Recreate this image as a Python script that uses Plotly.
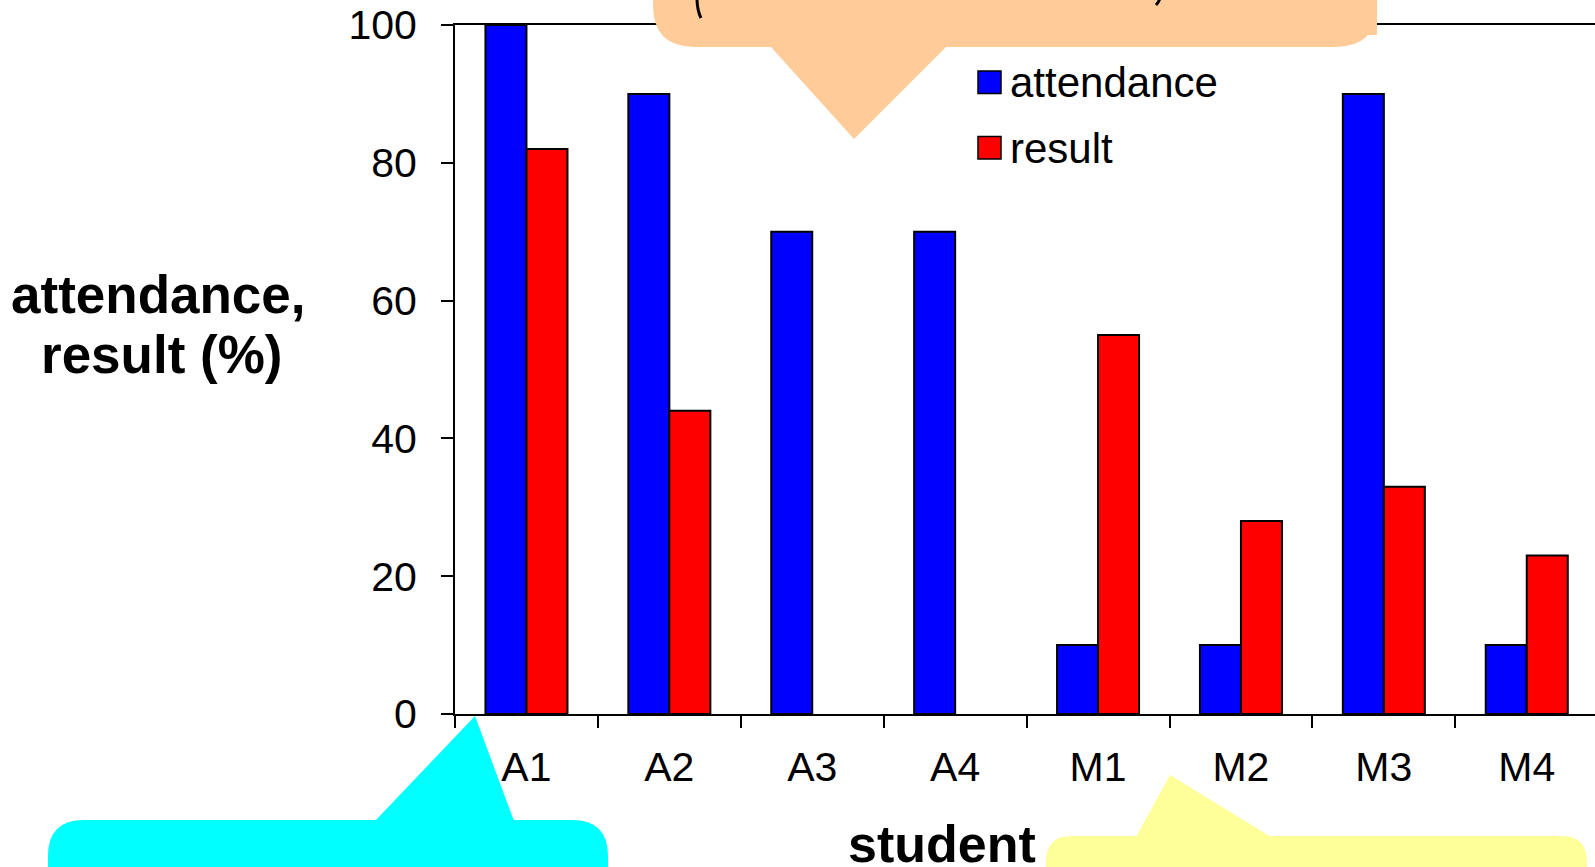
import plotly.graph_objects as go

# ---- data ----
students = ["A1", "A2", "A3", "A4", "M1", "M2", "M3", "M4"]
attendance = [100, 90, 70, 70, 10, 10, 90, 10]
result = [82, 44, 0, 0, 55, 28, 33, 23]
series_names = ["attendance", "result"]
series_colors = ["#0000FF", "#FF0000"]
y_ticks = [0, 20, 40, 60, 80, 100]

# ---- canvas geometry (pixels) ----
W, H = 1595, 867
L, R, T, B = 455, 0, 25, 153
PW, PH = W - L - R, H - T - B
CAT_W = 142.9  # width of one category in pixels


def px(x):
    return (x - L) / PW


def py(y):
    return (H - B - y) / PH


def pt(x, y):
    return f"{px(x):.5f},{py(y):.5f}"


FONT = "Liberation Sans, Arial, sans-serif"

fig = go.Figure()
for name, vals, col in zip(series_names, [attendance, result], series_colors):
    # empty bars get no outline so nothing is drawn for a zero value
    outline = [2 if v > 0 else 0 for v in vals]
    fig.add_trace(go.Bar(
        x=students, y=vals, name=name,
        marker=dict(color=col, line=dict(color="black", width=outline)),
        showlegend=False,
    ))

shapes = []


def callout(x0, x1, ytop, ybot, r, tail, color, rounded="top"):
    """Rounded box with a triangular pointer; tail = (base_left, tip, base_right)."""
    if rounded == "top":
        d = (f"M{pt(x0, ybot)} L{pt(x0, ytop + r)} Q{pt(x0, ytop)} {pt(x0 + r, ytop)} "
             f"L{pt(x1 - r, ytop)} Q{pt(x1, ytop)} {pt(x1, ytop + r)} L{pt(x1, ybot)} Z")
    else:
        d = (f"M{pt(x0, ytop)} L{pt(x0, ybot - r)} Q{pt(x0, ybot)} {pt(x0 + r, ybot)} "
             f"L{pt(x1 - r, ybot)} Q{pt(x1, ybot)} {pt(x1, ybot - r)} L{pt(x1, ytop)} Z")
    shapes.append(dict(type="path", path=d, xref="paper", yref="paper",
                       fillcolor=color, line=dict(width=0), layer="above"))
    (ax, ay), (bx, by), (cx, cy) = tail
    d2 = f"M{pt(ax, ay)} L{pt(bx, by)} L{pt(cx, cy)} Z"
    shapes.append(dict(type="path", path=d2, xref="paper", yref="paper",
                       fillcolor=color, line=dict(width=0), layer="above"))


# orange callout at the top
callout(653, 1377, -80, 47, 42, ((770, 46), (854, 139), (947, 46)), "#FFCC99", rounded="bottom")
shapes.append(dict(type="rect", xref="paper", yref="paper",
                   x0=px(1330), x1=px(1377), y0=py(35), y1=py(-80),
                   fillcolor="#FFCC99", line=dict(width=0), layer="above"))
# pen strokes of the handwritten note inside the orange callout
shapes.append(dict(type="path", xref="paper", yref="paper",
                   path=f"M{pt(697, -2)} Q{pt(697, 10)} {pt(701, 18)}",
                   line=dict(color="black", width=3), layer="above"))
shapes.append(dict(type="path", xref="paper", yref="paper",
                   path=f"M{pt(1160, -2)} Q{pt(1159, 2)} {pt(1156, 5)}",
                   line=dict(color="black", width=3), layer="above"))

# cyan callout bottom-left
callout(48, 608, 820, 920, 36, ((375, 821), (475, 716), (514, 821)), "#00FFFF")
# yellow callout bottom-right
callout(1046, 1587, 836, 920, 26, ((1136, 837), (1170, 775), (1271, 837)), "#FFFF99")

# legend swatches
sw = [(71, 93.5), (136.5, 159)]
for (y0, y1), col in zip(sw, series_colors):
    shapes.append(dict(type="rect", xref="paper", yref="paper",
                       x0=px(978), x1=px(1001), y0=py(y1), y1=py(y0),
                       fillcolor=col, line=dict(color="black", width=1.5), layer="above"))

annotations = []
for name, yc in zip(series_names, [82.5, 148]):
    annotations.append(dict(text=name, x=px(1008), y=py(yc), xref="paper", yref="paper",
                            xanchor="left", yanchor="middle", showarrow=False,
                            font=dict(family=FONT, size=42, color="black")))

# axis titles
annotations.append(dict(text="<b>attendance,</b>", x=px(158), y=py(294), xref="paper", yref="paper",
                        xanchor="center", yanchor="middle", showarrow=False,
                        font=dict(family=FONT, size=53, color="black")))
annotations.append(dict(text="<b>result (%)</b>", x=px(161), y=py(354), xref="paper", yref="paper",
                        xanchor="center", yanchor="middle", showarrow=False,
                        font=dict(family=FONT, size=53, color="black")))
annotations.append(dict(text="<b>student</b>", x=px(942), y=py(844), xref="paper", yref="paper",
                        xanchor="center", yanchor="middle", showarrow=False,
                        font=dict(family=FONT, size=52, color="black")))

fig.update_layout(
    width=W, height=H,
    margin=dict(l=L, r=R, t=T, b=B, pad=0),
    paper_bgcolor="white", plot_bgcolor="white",
    barmode="group", bargap=0.426, bargroupgap=0,
    font=dict(family=FONT, size=40, color="black"),
    shapes=shapes, annotations=annotations,
    xaxis=dict(
        type="category", range=[-0.5, -0.5 + PW / CAT_W],
        showline=True, linecolor="black", linewidth=2, mirror=True,
        ticks="outside", tickson="boundaries", ticklen=12, tickwidth=1.5, tickcolor="black",
        tickfont=dict(family=FONT, size=41, color="black"),
        showgrid=False, zeroline=False, ticklabelstandoff=16,
    ),
    yaxis=dict(
        range=[0, 100], tickvals=y_ticks,
        showline=True, linecolor="black", linewidth=2,
        ticks="outside", ticklen=12, tickwidth=1.5, tickcolor="black",
        tickfont=dict(family=FONT, size=41, color="black"),
        showgrid=False, zeroline=False, ticklabelstandoff=16,
    ),
)

fig.write_html("out.html")
